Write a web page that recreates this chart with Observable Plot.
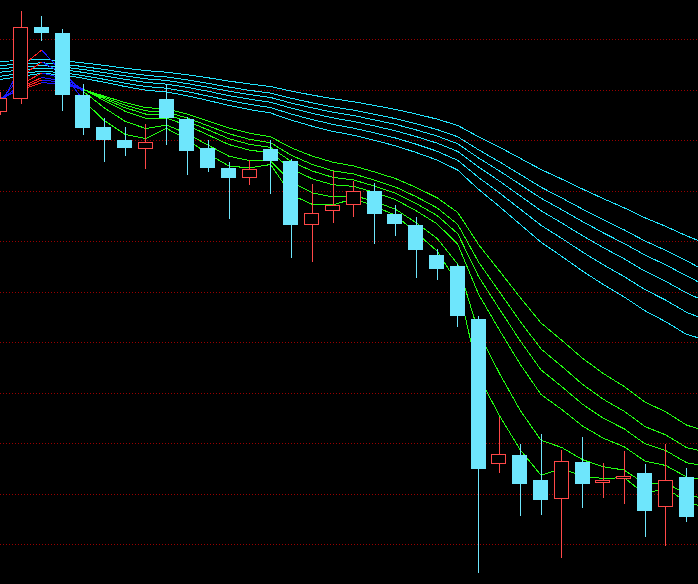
<!DOCTYPE html>
<html>
<head>
<meta charset="utf-8">
<script src="https://cdn.jsdelivr.net/npm/d3@7"></script>
<script src="https://cdn.jsdelivr.net/npm/@observablehq/plot@0.6"></script>
<style>
  html, body { margin: 0; padding: 0; background: #000; overflow: hidden; }
  #chart svg { display: block; }
</style>
</head>
<body>
<div id="chart"></div>
<script>
// Candles (index 0..33)
const opens  = [14.725,14.853,15.57,15.51,14.89,14.57,14.44,14.353,14.85,14.65,14.36,14.16,14.063,14.347,14.23,13.593,13.733,13.793,13.93,13.70,13.59,13.29,13.18,12.65,11.197,11.29,11.04,10.853,11.22,11.013,11.053,11.11,10.767,11.07];
const highs  = [14.92,15.73,15.68,15.55,15.00,14.66,14.57,14.60,15.00,14.673,14.437,14.22,14.24,14.437,14.247,13.997,14.127,14.03,14.007,13.79,13.667,13.347,13.203,12.68,11.667,11.40,11.497,11.337,11.47,11.207,11.33,11.20,11.40,11.16];
const lows   = [14.69,14.803,15.433,14.733,14.49,14.223,14.28,14.153,14.39,14.09,14.123,13.653,13.993,13.903,13.263,13.223,13.613,13.673,13.403,13.483,13.063,13.043,12.573,10.107,11.113,10.683,10.693,10.263,10.763,10.863,10.803,10.473,10.383,10.623];
const closes = [14.86,15.567,15.51,14.89,14.563,14.44,14.363,14.417,14.663,14.333,14.163,14.063,14.147,14.233,13.593,13.707,13.787,13.927,13.703,13.603,13.343,13.153,12.683,11.153,11.297,11.003,10.84,11.227,11.003,11.037,11.077,10.733,11.037,10.673];

// Short-term averages (index 0..34)
const ema3  = [14.79,15.179,15.345,15.117,14.84,14.64,14.501,14.459,14.561,14.447,14.305,14.184,14.166,14.2,13.897,13.802,13.795,13.86,13.782,13.693,13.518,13.336,13.01,12.082,11.69,11.347,11.093,11.16,11.082,11.06,11.069,10.901,10.969,10.82,10.77];
const ema5  = [14.84,15.082,15.225,15.113,14.93,14.767,14.632,14.56,14.595,14.507,14.393,14.283,14.238,14.236,14.022,13.917,13.874,13.891,13.829,13.753,13.617,13.462,13.202,12.519,12.112,11.742,11.442,11.37,11.248,11.178,11.144,11.007,11.017,10.902,10.85];
const ema8  = [14.84,15.002,15.115,15.065,14.953,14.839,14.733,14.663,14.663,14.59,14.495,14.399,14.343,14.318,14.157,14.057,13.997,13.981,13.92,13.849,13.737,13.607,13.402,12.902,12.545,12.203,11.9,11.75,11.584,11.463,11.377,11.234,11.19,11.075,11.04];
const ema10 = [14.84,14.972,15.07,15.037,14.951,14.858,14.768,14.704,14.697,14.631,14.546,14.458,14.401,14.371,14.229,14.135,14.071,14.045,13.983,13.914,13.81,13.691,13.507,13.079,12.755,12.437,12.146,11.979,11.802,11.663,11.556,11.407,11.339,11.218,11.18];
const ema12 = [14.85,14.96,15.045,15.021,14.951,14.872,14.794,14.736,14.725,14.664,14.587,14.507,14.451,14.418,14.291,14.201,14.137,14.105,14.043,13.975,13.878,13.767,13.6,13.224,12.927,12.631,12.356,12.182,12.001,11.852,11.733,11.579,11.496,11.369,11.32];
const ema15 = [14.86,14.948,15.019,15.003,14.948,14.884,14.819,14.769,14.756,14.703,14.635,14.564,14.512,14.477,14.366,14.284,14.222,14.185,14.125,14.06,13.97,13.868,13.72,13.399,13.136,12.87,12.616,12.442,12.262,12.109,11.98,11.824,11.726,11.594,11.53];

// Long-term averages (index 0..34)
const ema30 = [15.05,15.083,15.111,15.097,15.062,15.022,14.98,14.943,14.925,14.887,14.84,14.79,14.749,14.715,14.643,14.583,14.531,14.492,14.441,14.387,14.32,14.245,14.144,13.951,13.78,13.601,13.423,13.281,13.134,12.999,12.875,12.737,12.627,12.501,12.44];
const ema35 = [15.083,15.11,15.132,15.119,15.088,15.052,15.013,14.98,14.963,14.928,14.885,14.84,14.801,14.769,14.704,14.649,14.601,14.563,14.516,14.465,14.403,14.333,14.241,14.07,13.916,13.754,13.592,13.461,13.324,13.197,13.079,12.949,12.843,12.722,12.64];
const ema40 = [15.123,15.145,15.163,15.149,15.121,15.087,15.052,15.021,15.004,14.971,14.932,14.889,14.853,14.823,14.763,14.711,14.666,14.63,14.585,14.537,14.479,14.414,14.33,14.175,14.034,13.886,13.738,13.615,13.488,13.368,13.257,13.133,13.031,12.916,12.82];
const ema45 = [15.157,15.175,15.189,15.176,15.15,15.119,15.086,15.057,15.04,15.009,14.972,14.933,14.899,14.87,14.814,14.766,14.723,14.689,14.646,14.601,14.546,14.485,14.407,14.265,14.136,14.0,13.863,13.748,13.629,13.516,13.41,13.294,13.196,13.086,12.98];
const ema50 = [15.19,15.205,15.217,15.204,15.179,15.15,15.119,15.092,15.075,15.046,15.011,14.974,14.941,14.914,14.862,14.817,14.776,14.743,14.702,14.659,14.607,14.55,14.477,14.347,14.227,14.101,13.973,13.865,13.753,13.647,13.546,13.435,13.341,13.237,13.125];
const ema60 = [15.23,15.241,15.25,15.238,15.216,15.191,15.163,15.139,15.123,15.097,15.067,15.034,15.005,14.98,14.934,14.894,14.858,14.827,14.79,14.751,14.705,14.654,14.59,14.477,14.373,14.262,14.15,14.054,13.954,13.858,13.767,13.667,13.581,13.486,13.405];

// Horizontal grid levels
const gridLevels = [15.45,14.94,14.44,13.93,13.43,12.92,12.42,11.91,11.41,10.90,10.40];

// Colour segments for the short-term group: [fromIndex, toIndex, colour]
const shortSegments = [[0,1,"#1a1aff"],[1,2,"#ff2020"],[2,4,"#1a1aff"],[4,34,"#22ff11"]];

const shortSeries = [ema3, ema5, ema8, ema10, ema12, ema15];
const longSeries  = [ema30, ema35, ema40, ema45, ema50, ema60];

const candles = opens.map((o, i) => ({i, o, h: highs[i], l: lows[i], c: closes[i], up: closes[i] > o}));
const longRows = longSeries.flatMap((s, k) => s.map((v, i) => ({i, v, k})));
const shortMarks = shortSegments.map(([a, b, col]) =>
  Plot.line(shortSeries.flatMap((s, k) => s.slice(a, b + 1).map((v, j) => ({i: a + j, v, k}))),
    {x: "i", y: "v", z: "k", stroke: col, strokeWidth: 1, clip: true, shapeRendering: "crispEdges"}));

const cyanFill = "#6ee6fc";
const red = "#ff4848";
const hw = 0.36;

const chart = Plot.plot({
  width: 698,
  height: 584,
  margin: 0,
  x: {type: "linear", domain: [0.3 / 20.8, 698.3 / 20.8], axis: null},
  y: {domain: [10, 15.84], axis: null},
  style: {background: "#000", overflow: "hidden"},
  marks: [
    Plot.ruleY(gridLevels, {stroke: "#990000", strokeWidth: 1, strokeDasharray: "1,2", shapeRendering: "crispEdges"}),
    Plot.line(longRows, {x: "i", y: "v", z: "k", stroke: "#22e6ff", strokeWidth: 1, clip: true, shapeRendering: "crispEdges"}),
    ...shortMarks,
    Plot.ruleX(candles, {x: "i", y1: "l", y2: "h", stroke: d => d.up ? red : cyanFill, strokeWidth: 1, clip: true, shapeRendering: "crispEdges"}),
    Plot.rect(candles.filter(d => !d.up), {x1: d => d.i - hw, x2: d => d.i + hw, y1: "o", y2: "c", fill: cyanFill, clip: true, shapeRendering: "crispEdges"}),
    Plot.rect(candles.filter(d => d.up), {x1: d => d.i - hw, x2: d => d.i + hw, y1: "o", y2: "c", fill: "#000", stroke: red, strokeWidth: 1, inset: 0.5, clip: true, shapeRendering: "crispEdges"})
  ]
});
document.getElementById("chart").append(chart);
</script>
</body>
</html>
